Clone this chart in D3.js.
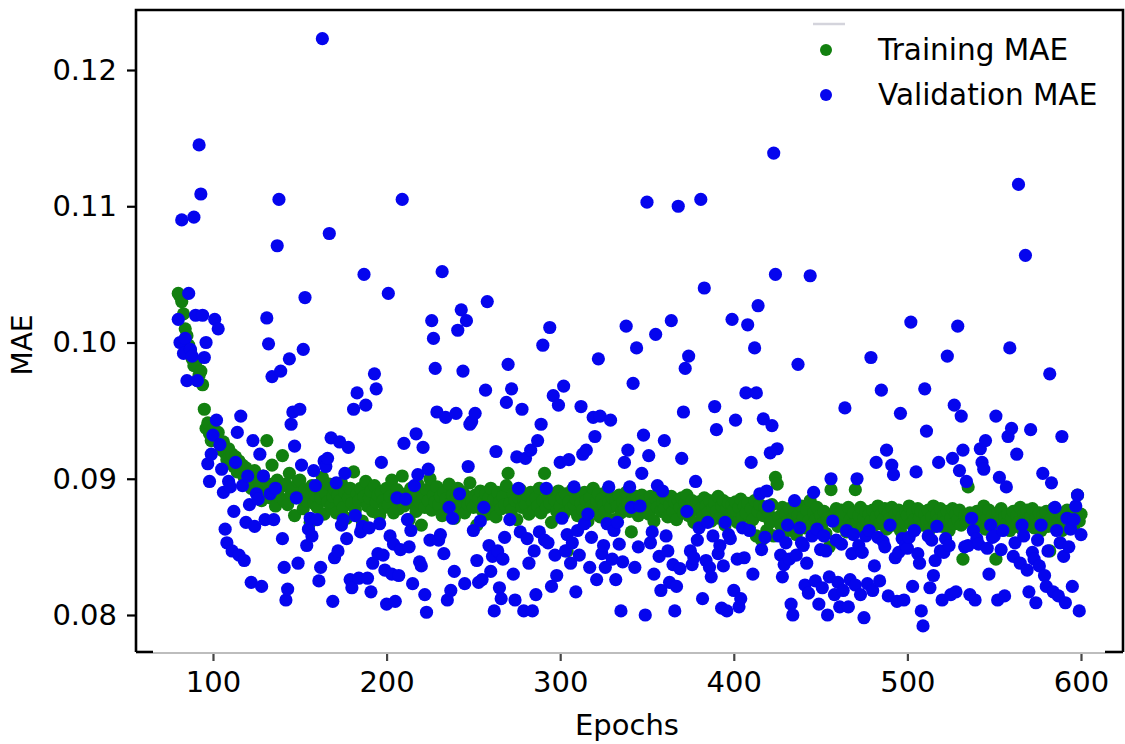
<!DOCTYPE html>
<html>
<head>
<meta charset="utf-8">
<script src="https://cdn.jsdelivr.net/npm/d3@7"></script>
<style>
  html, body { margin: 0; padding: 0; background: #fff; }
  svg { display: block; font-family: "DejaVu Sans", sans-serif; }
</style>
</head>
<body>
<svg id="chart" width="1125" height="744"></svg>
<script>
// Epochs shown on the x axis (the first 80 epochs are left out of the plot)
const firstEpoch = 80;
const lastEpoch = 600;

// Training MAE per epoch, 80..600
const trainingMAE = [
  0.1036,0.1034,0.1030,0.1021,0.1010,0.1005,0.0998,0.0994,0.0988,0.0983,
  0.0985,0.0972,0.0976,0.0979,0.0969,0.0951,0.0937,0.0941,0.0933,0.0928,
  0.0936,0.0929,0.0931,0.0934,0.0925,0.0921,0.0927,0.0919,0.0914,0.0922,
  0.0912,0.0918,0.0909,0.0916,0.0905,0.0913,0.0907,0.0910,0.0901,0.0908,
  0.0898,0.0904,0.0893,0.0899,0.0906,0.0893,0.0889,0.0897,0.0884,0.0902,
  0.0891,0.0928,0.0896,0.0886,0.0910,0.0892,0.0880,0.0899,0.0887,0.0894,
  0.0917,0.0884,0.0896,0.0881,0.0904,0.0889,0.0893,0.0873,0.0886,0.0898,
  0.0899,0.0887,0.0878,0.0892,0.0884,0.0890,0.0868,0.0895,0.0882,0.0888,
  0.0879,0.0893,0.0886,0.0901,0.0874,0.0889,0.0883,0.0896,0.0880,0.0887,
  0.0892,0.0875,0.0888,0.0884,0.0897,0.0879,0.0890,0.0871,0.0886,0.0893,
  0.0882,0.0905,0.0877,0.0889,0.0884,0.0893,0.0869,0.0887,0.0898,0.0880,
  0.0886,0.0891,0.0876,0.0895,0.0883,0.0888,0.0873,0.0890,0.0884,0.0879,
  0.0893,0.0881,0.0887,0.0899,0.0875,0.0886,0.0892,0.0878,0.0884,0.0902,
  0.0880,0.0889,0.0885,0.0870,0.0893,0.0882,0.0887,0.0876,0.0896,0.0883,
  0.0866,0.0889,0.0879,0.0892,0.0884,0.0900,0.0877,0.0888,0.0883,0.0894,
  0.0881,0.0887,0.0873,0.0890,0.0885,0.0879,0.0896,0.0882,0.0888,0.0871,
  0.0886,0.0893,0.0878,0.0884,0.0890,0.0875,0.0887,0.0881,0.0897,0.0883,
  0.0879,0.0888,0.0866,0.0885,0.0891,0.0877,0.0884,0.0889,0.0874,0.0886,
  0.0893,0.0880,0.0885,0.0872,0.0890,0.0883,0.0878,0.0887,0.0881,0.0895,
  0.0904,0.0882,0.0877,0.0889,0.0884,0.0870,0.0886,0.0892,0.0879,0.0885,
  0.0881,0.0888,0.0874,0.0890,0.0883,0.0877,0.0886,0.0880,0.0893,0.0875,
  0.0884,0.0904,0.0879,0.0887,0.0882,0.0868,0.0889,0.0884,0.0876,0.0891,
  0.0880,0.0886,0.0874,0.0889,0.0847,0.0883,0.0878,0.0892,0.0881,0.0885,
  0.0873,0.0888,0.0882,0.0877,0.0890,0.0884,0.0869,0.0886,0.0880,0.0893,
  0.0878,0.0884,0.0889,0.0872,0.0885,0.0881,0.0876,0.0891,0.0883,0.0879,
  0.0886,0.0870,0.0884,0.0880,0.0888,0.0875,0.0883,0.0878,0.0890,0.0882,
  0.0876,0.0861,0.0885,0.0879,0.0887,0.0873,0.0882,0.0888,0.0877,0.0884,
  0.0880,0.0874,0.0887,0.0882,0.0869,0.0885,0.0879,0.0889,0.0876,0.0883,
  0.0878,0.0885,0.0872,0.0881,0.0887,0.0876,0.0883,0.0870,0.0884,0.0879,
  0.0886,0.0875,0.0882,0.0888,0.0873,0.0880,0.0884,0.0868,0.0881,0.0877,
  0.0883,0.0878,0.0872,0.0886,0.0880,0.0875,0.0884,0.0869,0.0879,0.0882,
  0.0876,0.0887,0.0871,0.0880,0.0884,0.0866,0.0878,0.0882,0.0874,0.0881,
  0.0877,0.0883,0.0868,0.0879,0.0885,0.0872,0.0880,0.0875,0.0882,0.0864,
  0.0878,0.0870,0.0884,0.0858,0.0876,0.0881,0.0855,0.0873,0.0879,0.0862,
  0.0875,0.0868,0.0881,0.0858,0.0901,0.0896,0.0872,0.0866,0.0879,0.0860,
  0.0874,0.0869,0.0878,0.0863,0.0871,0.0876,0.0859,0.0873,0.0867,0.0880,
  0.0872,0.0864,0.0877,0.0869,0.0884,0.0866,0.0875,0.0870,0.0879,0.0862,
  0.0873,0.0867,0.0876,0.0860,0.0871,0.0850,0.0892,0.0869,0.0874,0.0878,
  0.0865,0.0872,0.0877,0.0868,0.0874,0.0861,0.0879,0.0870,0.0866,0.0875,
  0.0892,0.0868,0.0873,0.0879,0.0864,0.0871,0.0876,0.0862,0.0874,0.0869,
  0.0877,0.0866,0.0872,0.0880,0.0867,0.0874,0.0870,0.0878,0.0863,0.0875,
  0.0871,0.0879,0.0866,0.0874,0.0869,0.0877,0.0862,0.0872,0.0868,0.0876,
  0.0873,0.0880,0.0867,0.0875,0.0870,0.0864,0.0878,0.0871,0.0876,0.0866,
  0.0874,0.0869,0.0877,0.0863,0.0872,0.0880,0.0867,0.0874,0.0870,0.0878,
  0.0865,0.0873,0.0869,0.0876,0.0862,0.0871,0.0878,0.0867,0.0874,0.0870,
  0.0877,0.0866,0.0841,0.0873,0.0869,0.0894,0.0875,0.0868,0.0872,0.0864,
  0.0876,0.0870,0.0867,0.0874,0.0880,0.0863,0.0871,0.0877,0.0868,0.0873,
  0.0866,0.0841,0.0875,0.0869,0.0878,0.0864,0.0872,0.0867,0.0874,0.0862,
  0.0871,0.0876,0.0865,0.0873,0.0868,0.0879,0.0863,0.0874,0.0870,0.0877,
  0.0866,0.0872,0.0878,0.0864,0.0871,0.0867,0.0875,0.0862,0.0873,0.0868,
  0.0876,0.0865,0.0847,0.0871,0.0878,0.0866,0.0873,0.0869,0.0875,0.0862,
  0.0872,0.0867,0.0877,0.0864,0.0870,0.0875,0.0866,0.0873,0.0888,0.0869,
  0.0874
];

// Validation MAE per epoch, 80..600
const validationMAE = [
  0.1017,0.1000,0.1090,0.0992,0.1003,0.0972,0.1036,0.0995,0.0990,0.1092,
  0.1020,0.0972,0.1145,0.1109,0.1020,0.0989,0.1000,0.0911,0.0898,0.0918,
  0.0932,0.1017,0.0943,0.1010,0.0925,0.0907,0.0890,0.0863,0.0853,0.0898,
  0.0894,0.0847,0.0876,0.0912,0.0934,0.0844,0.0946,0.0895,0.0840,0.0868,
  0.0902,0.0881,0.0824,0.0928,0.0865,0.0889,0.0885,0.0918,0.0821,0.0902,
  0.0870,0.1018,0.0999,0.0889,0.0975,0.0870,0.0893,0.1071,0.1105,0.0979,
  0.0856,0.0835,0.0811,0.0819,0.0988,0.0940,0.0949,0.0924,0.0886,0.0838,
  0.0951,0.0910,0.0995,0.1033,0.0851,0.0863,0.0871,0.0858,0.0906,0.0895,
  0.0870,0.0825,0.0835,0.1223,0.0913,0.0909,0.0915,0.1080,0.0930,0.0810,
  0.0842,0.0897,0.0847,0.0927,0.0866,0.0870,0.0904,0.0856,0.0923,0.0826,
  0.0820,0.0951,0.0873,0.0963,0.0827,0.0861,0.0865,0.1050,0.0954,0.0827,
  0.0864,0.0817,0.0838,0.0977,0.0966,0.0845,0.0867,0.0912,0.0844,0.0833,
  0.0808,0.1036,0.0858,0.0830,0.0852,0.0810,0.0886,0.0829,0.0848,0.1105,
  0.0926,0.0885,0.0870,0.0850,0.0862,0.0823,0.0895,0.0933,0.0903,0.0839,
  0.0836,0.0923,0.0815,0.0802,0.0907,0.0855,0.1016,0.1003,0.0981,0.0949,
  0.0855,0.0859,0.1052,0.0845,0.0945,0.0811,0.0879,0.0818,0.0871,0.0832,
  0.0948,0.1009,0.0889,0.1024,0.0979,0.0823,0.1016,0.0909,0.0940,0.0942,
  0.0862,0.0948,0.0840,0.0824,0.0869,0.0826,0.0879,0.0965,0.1030,0.0851,
  0.0832,0.0843,0.0803,0.0920,0.0847,0.0820,0.0812,0.0841,0.0857,0.0956,
  0.0984,0.0870,0.0966,0.0830,0.0811,0.0916,0.0893,0.0861,0.0951,0.0803,
  0.0915,0.0856,0.0838,0.0921,0.0803,0.0847,0.0815,0.0928,0.0861,0.0940,
  0.0998,0.0855,0.0893,0.0853,0.1011,0.0821,0.0961,0.0844,0.0829,0.0954,
  0.0912,0.0871,0.0968,0.0847,0.0859,0.0914,0.0838,0.0853,0.0894,0.0817,
  0.0862,0.0844,0.0953,0.0918,0.0867,0.0921,0.0874,0.0835,0.0857,0.0945,
  0.0931,0.0826,0.0988,0.0946,0.0845,0.0851,0.0835,0.0867,0.0894,0.0943,
  0.0841,0.0862,0.0826,0.0868,0.0852,0.0803,0.0839,0.0912,0.1012,0.0921,
  0.0894,0.0879,0.0970,0.0835,0.0996,0.0850,0.0880,0.0904,0.0932,0.0800,
  0.1103,0.0917,0.0853,0.0861,0.0830,0.1006,0.0895,0.0843,0.0818,0.0891,
  0.0928,0.0858,0.0847,0.0824,0.1016,0.0837,0.0803,0.0821,0.1100,0.0834,
  0.0915,0.0949,0.0981,0.0876,0.0990,0.0847,0.0837,0.0842,0.0898,0.0855,
  0.0864,0.1105,0.0812,0.1040,0.0840,0.0868,0.0835,0.0828,0.0858,0.0953,
  0.0936,0.0845,0.0851,0.0805,0.0836,0.0868,0.0803,0.0859,0.0856,0.1017,
  0.0818,0.0943,0.0841,0.0806,0.0812,0.0864,0.0842,0.0963,0.1013,0.0862,
  0.0912,0.0830,0.0996,0.0963,0.1027,0.0889,0.0848,0.0944,0.0857,0.0891,
  0.0880,0.0919,0.0939,0.1139,0.1050,0.0922,0.0858,0.0844,0.0828,0.0837,
  0.0853,0.0866,0.0841,0.0808,0.0800,0.0884,0.0844,0.0984,0.0864,0.0853,
  0.0851,0.0822,0.0838,0.0816,0.1049,0.0858,0.0890,0.0825,0.0863,0.0808,
  0.0848,0.0820,0.0858,0.0847,0.0800,0.0828,0.0900,0.0869,0.0815,0.0855,
  0.0824,0.0806,0.0852,0.0818,0.0952,0.0862,0.0806,0.0826,0.0845,0.0859,
  0.0822,0.0900,0.0851,0.0815,0.0846,0.0798,0.0858,0.0823,0.0862,0.0989,
  0.0818,0.0836,0.0912,0.0857,0.0825,0.0965,0.0854,0.0850,0.0921,0.0814,
  0.0866,0.0910,0.0903,0.0842,0.0810,0.0846,0.0948,0.0856,0.0811,0.0851,
  0.0849,0.0857,0.1015,0.0821,0.0862,0.0905,0.0845,0.0838,0.0803,0.0792,
  0.0966,0.0935,0.0858,0.0820,0.0855,0.0829,0.0840,0.0865,0.0912,0.0847,
  0.0811,0.0846,0.0856,0.0990,0.0851,0.0815,0.0915,0.0954,0.0817,0.1012,
  0.0906,0.0946,0.0921,0.0850,0.0898,0.0851,0.0815,0.0871,0.0862,0.0811,
  0.0856,0.0852,0.0922,0.0912,0.0907,0.0928,0.0849,0.0830,0.0866,0.0857,
  0.0858,0.0946,0.0811,0.0901,0.0848,0.0862,0.0814,0.0894,0.0931,0.0996,
  0.0937,0.0843,0.0853,0.0918,0.1116,0.0838,0.0866,0.0858,0.1064,0.0833,
  0.0817,0.0936,0.0846,0.0841,0.0809,0.0855,0.0836,0.0866,0.0904,0.0829,
  0.0821,0.0847,0.0977,0.0897,0.0817,0.0879,0.0862,0.0814,0.0853,0.0931,
  0.0843,0.0809,0.0871,0.0850,0.0863,0.0821,0.0870,0.0880,0.0888,0.0803,
  0.0859
];

const xTicks = [100, 200, 300, 400, 500, 600];
const yTicks = [0.08, 0.09, 0.10, 0.11, 0.12];
const seriesNames = ["Training MAE", "Validation MAE"];
const seriesColors = ["#12800f", "#0505ee"];

const epochs = d3.range(firstEpoch, lastEpoch + 1);

const svg = d3.select("#chart");
const plot = { left: 136, right: 1123, top: 10, bottom: 652 };

const x = d3.scaleLinear().domain([55.65, 624.2]).range([plot.left, plot.right]);
const y = d3.scaleLinear().domain([0.077284, 0.124404]).range([plot.bottom, plot.top]);

const dotRadius = 6.6;

// Scatter points: training first, validation drawn over it
const seriesData = [trainingMAE, validationMAE];
seriesData.forEach((vals, i) => {
  svg.append("g")
    .attr("fill", seriesColors[i])
    .selectAll("circle")
    .data(epochs.map((e, j) => ({ e, v: vals[j] })))
    .join("circle")
    .attr("cx", d => x(d.e))
    .attr("cy", d => y(d.v))
    .attr("r", dotRadius);
});

// Axes
const xAxis = d3.axisBottom(x).tickValues(xTicks).tickFormat(d3.format("d"))
  .tickSize(8).tickPadding(10);
const yAxis = d3.axisLeft(y).tickValues(yTicks).tickFormat(d3.format(".2f"))
  .tickSize(9).tickPadding(10);

const gx = svg.append("g").attr("transform", `translate(0,${plot.bottom + 1})`).call(xAxis);
const gy = svg.append("g").attr("transform", `translate(${plot.left},0)`).call(yAxis);

[gx, gy].forEach(g => {
  g.select(".domain").remove();
  g.selectAll(".tick line").attr("stroke", "#000").attr("stroke-width", 2.2);
  g.selectAll(".tick text").attr("fill", "#000").attr("font-size", 29)
    .attr("font-family", "DejaVu Sans, sans-serif");
});
gx.selectAll(".tick line").attr("stroke", "#444");

// Frame
const frame = svg.append("g").attr("fill", "none").attr("stroke-width", 2.6);
frame.append("path").attr("stroke", "#000")
  .attr("d", `M${plot.left},${plot.bottom} V${plot.top} H${plot.right} V${plot.bottom}`);
frame.append("line").attr("stroke", "#bdbdbd").attr("stroke-width", 2)
  .attr("x1", 153).attr("x2", 1105).attr("y1", plot.bottom + 1).attr("y2", plot.bottom + 1);
frame.append("line").attr("stroke", "#000")
  .attr("x1", plot.left).attr("x2", 153).attr("y1", plot.bottom).attr("y2", plot.bottom);
frame.append("line").attr("stroke", "#000")
  .attr("x1", 1105).attr("x2", plot.right).attr("y1", plot.bottom).attr("y2", plot.bottom);

// Axis titles
svg.append("text")
  .attr("x", 627).attr("y", 735)
  .attr("text-anchor", "middle").attr("font-size", 29).attr("fill", "#000")
  .text("Epochs");
svg.append("text")
  .attr("transform", `translate(32,${(plot.top + plot.bottom) / 2 + 14}) rotate(-90)`)
  .attr("text-anchor", "middle").attr("font-size", 28).attr("fill", "#000")
  .text("MAE");

// Legend
const legend = svg.append("g");
legend.append("line").attr("stroke", "#d4d4dc").attr("stroke-width", 2.5)
  .attr("x1", 813).attr("x2", 845).attr("y1", 24).attr("y2", 24);
seriesNames.forEach((name, i) => {
  const ly = 50 + i * 45;
  legend.append("circle").attr("cx", 826).attr("cy", ly).attr("r", 6)
    .attr("fill", seriesColors[i]);
  legend.append("text").attr("x", 878).attr("y", ly + 10)
    .attr("font-size", 29.5).attr("fill", "#000").text(name);
});
</script>
</body>
</html>
